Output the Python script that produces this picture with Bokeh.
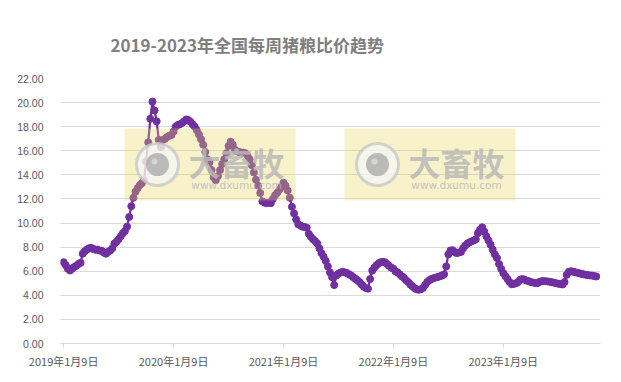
from bokeh.plotting import figure
from bokeh.models import Range1d, FixedTicker, NumeralTickFormatter, ColumnDataSource
from bokeh.core.properties import value
from bokeh.embed import file_html
from bokeh.resources import INLINE

# weekly pig-grain price ratio, 2019-01-09 onward
ratio = [
    6.75, 6.5, 6.2, 6.06, 6.2, 6.35, 6.45, 6.6, 6.7, 7.45,
    7.65, 7.8, 7.9, 7.94, 7.85, 7.78, 7.8, 7.72, 7.7, 7.55,
    7.45, 7.6, 7.72, 7.9, 8.3, 8.45, 8.65, 8.9, 9.15, 9.35,
    9.7, 10.5, 11.4, 12.1, 12.6, 12.9, 13.15, 13.3, 13.55, 15.1,
    16.7, 18.65, 20.08, 19.35, 18.45, 16.9, 16.3, 16.9, 17.0, 17.15,
    17.25, 17.3, 17.6, 18.0, 18.15, 18.2, 18.3, 18.45, 18.6, 18.55,
    18.4, 18.2, 18.0, 17.7, 17.35, 16.95, 16.5, 15.9, 15.3, 15.05,
    14.4, 13.8, 13.55, 13.9, 14.4, 14.9, 15.3, 15.8, 16.4, 16.75,
    16.5, 16.1, 15.95, 15.9, 15.85, 15.85, 15.8, 15.6, 15.3, 14.8,
    14.2, 13.6, 13.1, 12.5, 11.8, 11.7, 11.65, 11.7, 11.65, 12.0,
    12.3, 12.5, 12.75, 13.0, 13.35, 13.1, 12.7, 12.1, 11.35, 10.8,
    10.3, 9.9, 9.8, 9.7, 9.68, 9.6, 9.1, 8.85, 8.65, 8.5,
    8.3, 7.9, 7.5, 7.2, 6.85, 6.4, 5.9, 5.5, 4.85, 5.65,
    5.8, 5.9, 5.95, 5.9, 5.85, 5.75, 5.65, 5.5, 5.38, 5.25,
    5.1, 4.9, 4.72, 4.6, 4.55, 5.35, 6.05, 6.3, 6.5, 6.65,
    6.75, 6.78, 6.75, 6.6, 6.45, 6.3, 6.2, 6.0, 5.9, 5.75,
    5.58, 5.45, 5.25, 5.1, 4.9, 4.75, 4.6, 4.5, 4.46, 4.5,
    4.6, 4.85, 5.1, 5.25, 5.35, 5.42, 5.48, 5.52, 5.58, 5.64,
    5.75, 6.4, 7.4, 7.72, 7.75, 7.6, 7.5, 7.55, 7.6, 7.9,
    8.13, 8.3, 8.4, 8.48, 8.55, 8.65, 9.15, 9.45, 9.65, 9.3,
    8.9, 8.55, 8.2, 7.8, 7.4, 7.1, 6.6, 6.2, 5.85, 5.6,
    5.35, 5.1, 4.92, 4.95, 5.0, 5.1, 5.3, 5.35, 5.3, 5.23,
    5.18, 5.1, 5.07, 5.03, 5.0, 5.1, 5.17, 5.18, 5.17, 5.15,
    5.12, 5.09, 5.05, 5.0, 4.97, 4.93, 4.9, 5.1, 5.7, 5.95,
    6.0, 5.97, 5.92, 5.87, 5.83, 5.78, 5.75, 5.7, 5.68, 5.65,
    5.64, 5.6, 5.56,
]
weeks = list(range(len(ratio)))

tick_labels = ["2019年1月9日", "2020年1月9日", "2021年1月9日", "2022年1月9日", "2023年1月9日"]
weeks_per_year = 52
y_ticks = [0, 2, 4, 6, 8, 10, 12, 14, 16, 18, 20, 22]

title_text = "2019-2023年全国每周猪粮比价趋势"
wm_big = "大畜牧"
wm_small = "www.dxumu.com"

PURPLE = "#7030A0"
GRAY_TXT = "#595959"
GRID = "#d9d9d9"

W, H = 613, 374
BL, BR, BT, BB = 60, 13, 78, 31
X0, X1 = -1.5, 254.0
p = figure(width=W, height=H, output_backend="svg", toolbar_location=None,
           x_range=Range1d(X0, X1), y_range=Range1d(0, 22),
           min_border_left=BL, min_border_right=BR, min_border_top=BT, min_border_bottom=BB,
           background_fill_color="white", border_fill_color="white")
p.outline_line_color = None

frame_w = W - BL - BR
frame_h = H - BT - BB
def px2x(px):
    return X0 + (px - BL) * (X1 - X0) / frame_w
def px2y(py):
    return (H - BB - py) * 22.0 / frame_h

# title
p.title.text = title_text
p.title.text_font = "Noto Sans CJK SC"
p.title.text_font_size = "17px"
p.title.text_font_style = "bold"
p.title.text_color = "#7f7f7f"
p.title.align = "left"
p.title.offset = 50
p.title.vertical_align = "top"
p.title.standoff = 40

# axes
tick_pos = [i * weeks_per_year for i in range(len(tick_labels))]
xa = p.xaxis[0]
xa.ticker = FixedTicker(ticks=tick_pos)
xa.major_label_overrides = {t: lab for t, lab in zip(tick_pos, tick_labels)}
xa.major_label_text_font = "Noto Sans CJK SC"
xa.major_label_text_font_size = "11px"
xa.major_label_text_color = GRAY_TXT
xa.axis_line_color = GRID
xa.major_tick_line_color = GRID
xa.major_tick_out = 4
xa.major_tick_in = 0
xa.minor_tick_line_color = None
xa.major_label_standoff = 5

ya = p.yaxis[0]
ya.ticker = FixedTicker(ticks=y_ticks)
ya.formatter = NumeralTickFormatter(format="0.00")
ya.major_label_text_font = "Liberation Sans"
ya.major_label_text_font_size = "10.5px"
ya.major_label_text_color = GRAY_TXT
ya.axis_line_color = None
ya.major_tick_line_color = None
ya.minor_tick_line_color = None
ya.major_label_standoff = 11

p.xgrid.grid_line_color = None
p.ygrid.grid_line_color = GRID
p.ygrid.grid_line_width = 1

src = ColumnDataSource(dict(x=weeks, y=ratio))
p.line("x", "y", source=src, line_color=PURPLE, line_width=2.25)
p.scatter("x", "y", source=src, size=7, marker="circle", fill_color=PURPLE, line_color=PURPLE)

# watermark overlays (decorative), positioned in screen pixels then mapped
for left in (124, 344):
    top, bottom = 128, 200
    p.quad(left=px2x(left), right=px2x(left + 171), top=px2y(top), bottom=px2y(bottom),
           fill_color="#EAD85C", fill_alpha=0.32, line_color=None)
    cx, cy = px2x(left + 33), px2y(164)
    p.scatter([cx], [cy], size=42, marker="circle", fill_color="#f6f6f6", fill_alpha=0.75,
              line_color="#c8c8c8", line_width=3, line_alpha=0.8)
    p.scatter([cx], [cy], size=23, marker="circle", fill_color="#ababab", fill_alpha=0.8,
              line_color=None)
    p.scatter([px2x(left + 30)], [px2y(161)], size=6, marker="circle", fill_color="#d8d8d8",
              fill_alpha=0.9, line_color=None)
    p.text([px2x(left + 112)], [px2y(161)], text=[wm_big], text_font=value("Noto Sans CJK SC"),
           text_font_size="32px", text_font_style="bold", text_color="#b8b8b8", text_alpha=0.85,
           text_align="center", text_baseline="middle")
    p.text([px2x(left + 112)], [px2y(184)], text=[wm_small], text_font=value("DejaVu Sans"),
           text_font_size="10.5px", text_color="#bcbcbc", text_alpha=0.9,
           text_align="center", text_baseline="middle")

open("out.html", "w").write(file_html(p, INLINE))
